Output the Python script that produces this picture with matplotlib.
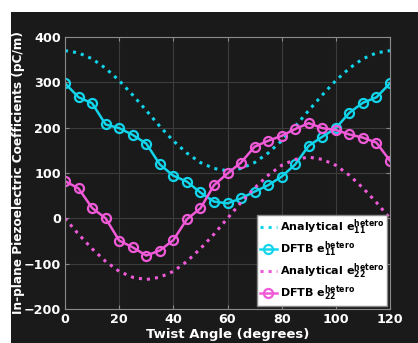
import matplotlib
matplotlib.use("Agg")
import matplotlib.pyplot as plt
from matplotlib.patches import Rectangle

# twist angle grid (degrees)
angle = [0, 5, 10, 15, 20, 25, 30, 35, 40, 45, 50, 55, 60,
         65, 70, 75, 80, 85, 90, 95, 100, 105, 110, 115, 120]

# analytical curves
ana_e11 = [370, 365, 352, 331, 304, 272, 238, 203, 171, 144, 123, 110, 105,
           110, 123, 144, 171, 203, 238, 272, 304, 331, 352, 365, 370]
ana_e22 = [0, -35, -67, -95, -117, -130, -135, -130, -117, -95, -67, -35, 0,
           35, 67, 95, 117, 130, 135, 130, 117, 95, 67, 35, 0]

# DFTB results
dftb_e11 = [298, 267, 254, 207, 199, 184, 165, 119, 94, 81, 57, 37, 33,
            44, 59, 73, 92, 119, 160, 180, 199, 233, 255, 267, 298]
dftb_e22 = [82, 66, 23, 0, -49, -64, -82, -71, -48, -2, 22, 73, 99,
            123, 158, 171, 182, 197, 210, 199, 195, 185, 178, 167, 127]

cyan = '#12d5ec'
pink = '#f05ad8'
bg = '#1a1a1a'

plt.rcParams['font.family'] = 'DejaVu Sans'
plt.rcParams['font.weight'] = 'bold'
plt.rcParams['mathtext.fontset'] = 'dejavusans'

fig = plt.figure(figsize=(4.18, 3.43), dpi=100, facecolor='white')
fig.add_artist(Rectangle((11 / 418, 0), 1, 331 / 343, transform=fig.transFigure,
                         facecolor=bg, edgecolor='none', zorder=-5))
ax = fig.add_axes([65 / 418, 34 / 343, 325 / 418, 272 / 343])
ax.set_facecolor(bg)

ax.plot(angle, ana_e11, ':', color=cyan, lw=2.2,
        label=r'Analytical $\mathbf{e}_{\mathbf{11}}^{\mathbf{hetero}}$')
ax.plot(angle, dftb_e11, '-o', color=cyan, lw=1.8, ms=6.5, mfc='none', mew=1.6,
        label=r'DFTB $\mathbf{e}_{\mathbf{11}}^{\mathbf{hetero}}$')
ax.plot(angle, ana_e22, ':', color=pink, lw=2.2,
        label=r'Analytical $\mathbf{e}_{\mathbf{22}}^{\mathbf{hetero}}$')
ax.plot(angle, dftb_e22, '-o', color=pink, lw=1.8, ms=6.5, mfc='none', mew=1.6,
        label=r'DFTB $\mathbf{e}_{\mathbf{22}}^{\mathbf{hetero}}$')

ax.set_xlim(0, 120)
ax.set_ylim(-200, 400)
ax.set_xticks(range(0, 121, 20))
ax.set_yticks(range(-200, 401, 100))
ax.grid(True, color='#3c3c3c', lw=0.8)
ax.set_axisbelow(True)
for s in ax.spines.values():
    s.set_color('#8a8a8a')
ax.tick_params(direction='in', colors='#8a8a8a', labelcolor='white',
               labelsize=9.2, length=3, top=True, right=True, pad=3)
for lab in ax.get_xticklabels() + ax.get_yticklabels():
    lab.set_fontweight('bold')

ax.set_xlabel('Twist Angle (degrees)', color='white', fontsize=9.5,
              fontweight='bold', labelpad=1)
ax.set_ylabel('In-plane Piezoelectric Coefficients (pC/m)', color='white',
              fontsize=8.7, fontweight='bold', va='center')
ax.yaxis.set_label_coords(-46 / 325, 0.5)

leg = ax.legend(loc='lower right', handlelength=1.6,
                handletextpad=0.2, borderpad=0.25, labelspacing=0.2,
                borderaxespad=0.3, fancybox=False, framealpha=1,
                prop={'weight': 'bold', 'size': 8.0})
leg.get_frame().set_facecolor('white')
leg.get_frame().set_edgecolor('#8a8a8a')

fig.savefig('out.png', dpi=100, facecolor=fig.get_facecolor())
